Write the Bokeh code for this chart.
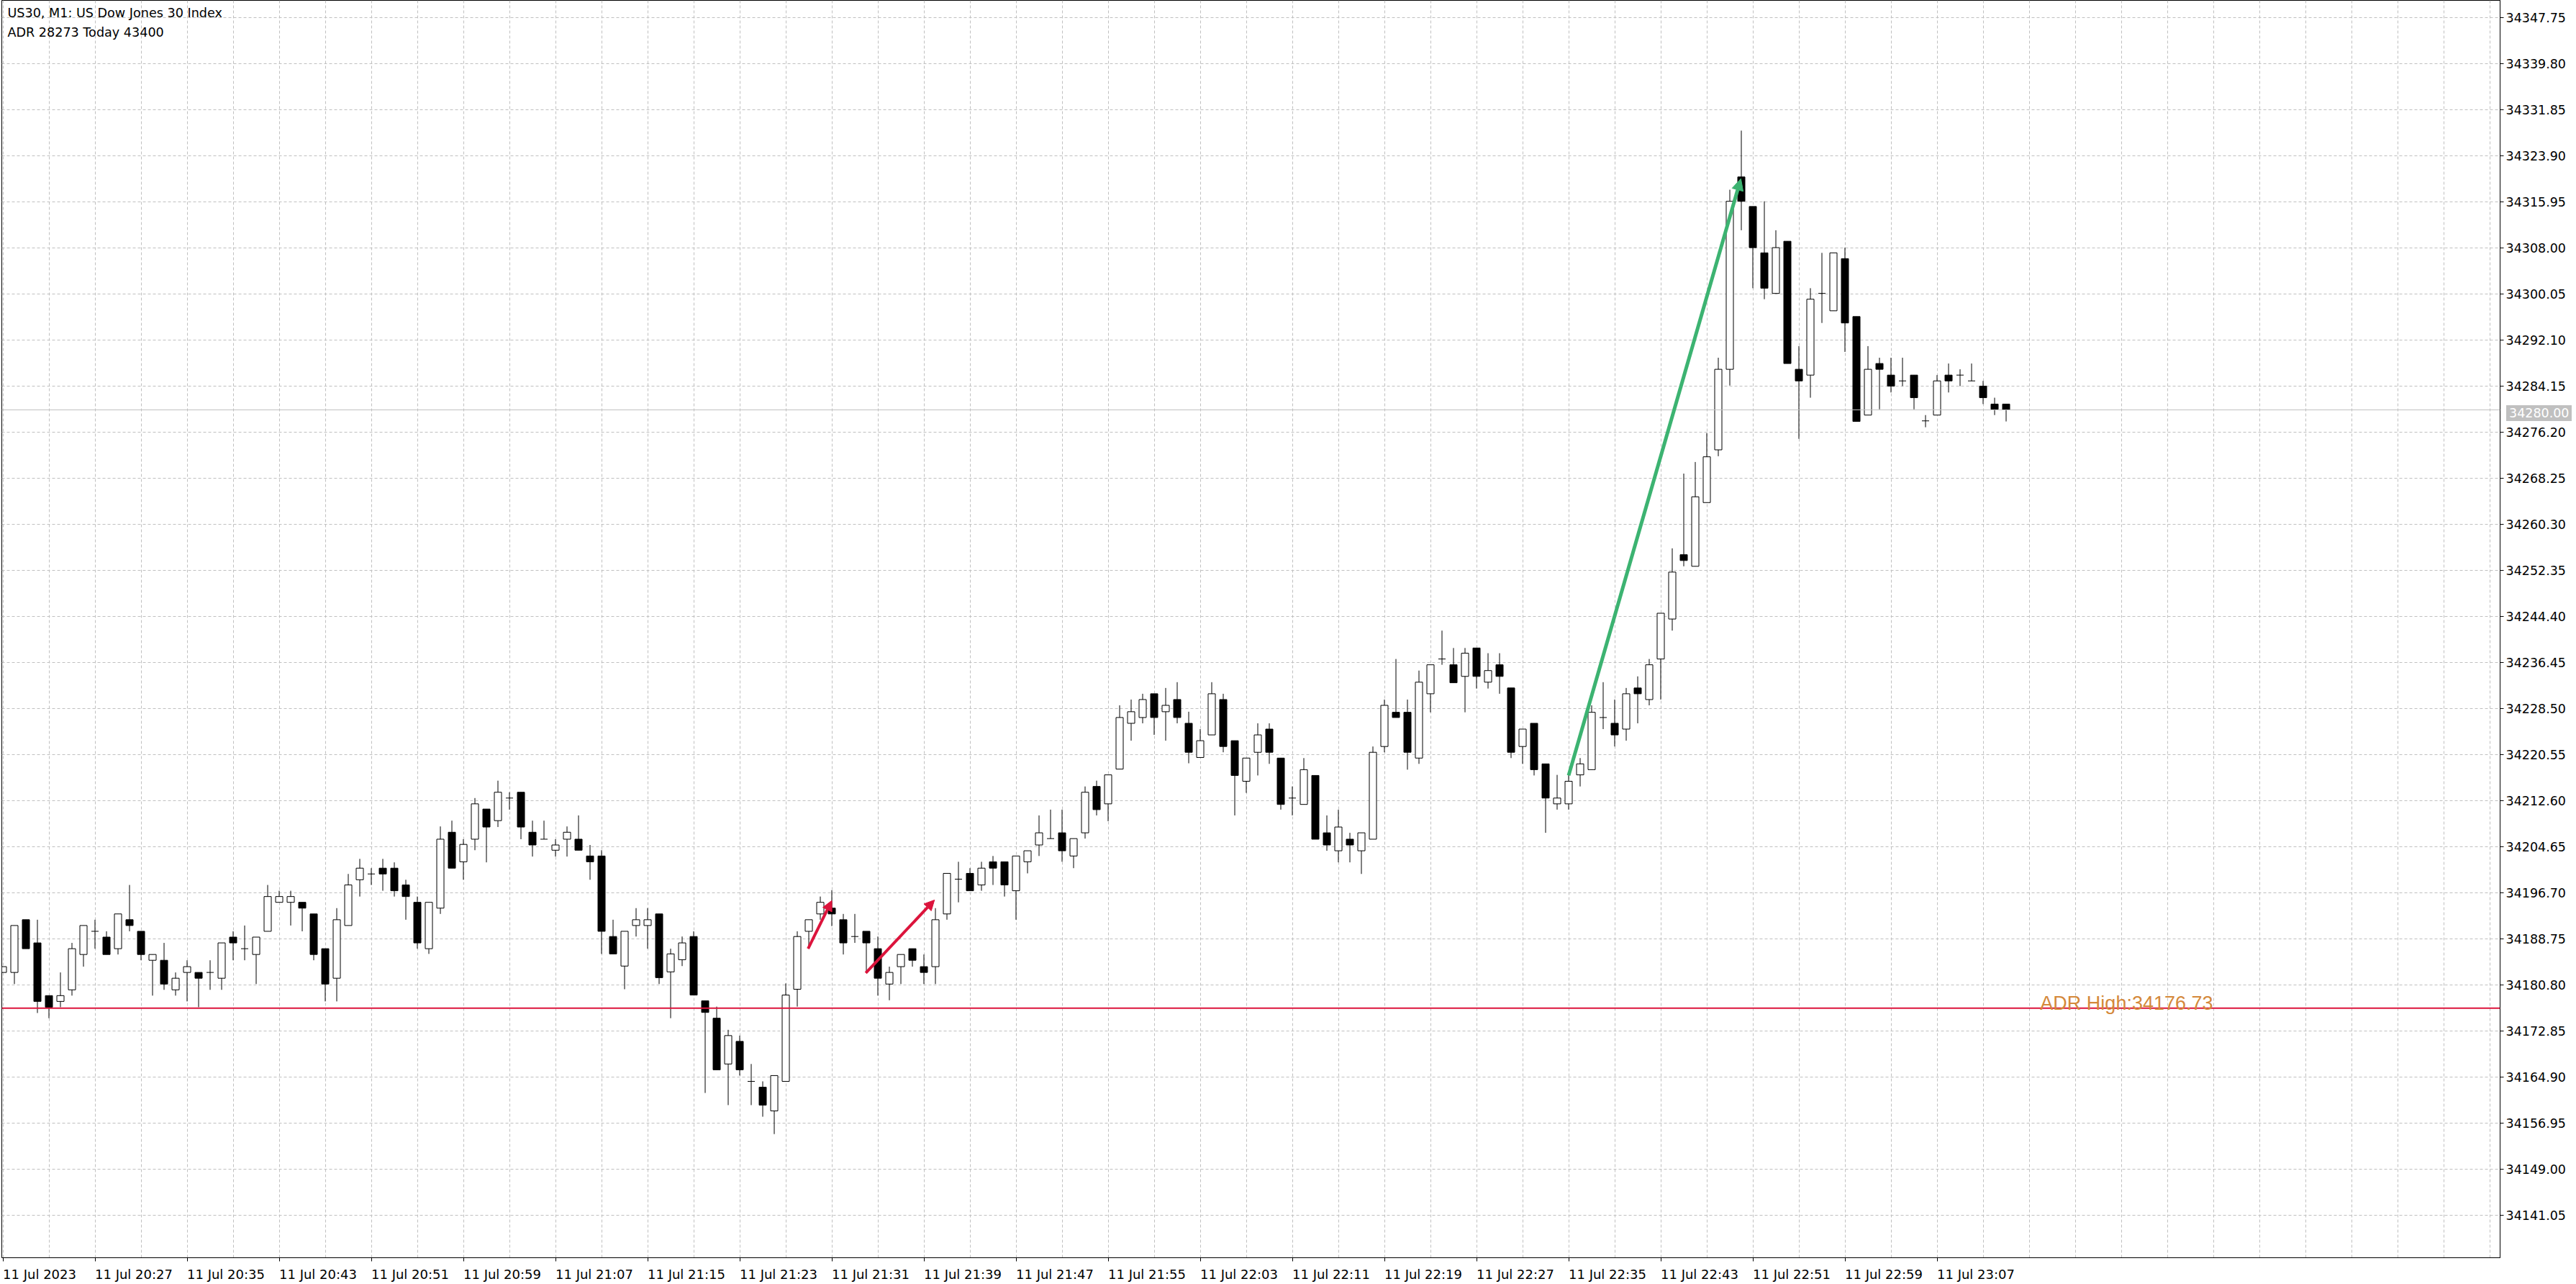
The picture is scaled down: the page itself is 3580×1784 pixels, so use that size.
from bokeh.plotting import figure
from bokeh.models import FixedTicker, Span, Label, Arrow, NormalHead, Range1d, PrintfTickFormatter, ColumnDataSource, Div
from bokeh.layouts import column
from bokeh.embed import file_html
from bokeh.resources import INLINE

# ---------------- data (M1 candles, index 0 = 11 Jul 20:19) ----------------
opens = [
    34182.9, 34182.9, 34192.0, 34188.0, 34178.9, 34177.9, 34179.9, 34186.0, 34190.0, 34189.0,
    34187.0, 34192.0, 34190.0, 34185.0, 34185.0, 34179.9, 34182.9, 34182.9, 34182.9, 34181.9,
    34189.0, 34187.0, 34186.0, 34190.0, 34195.0, 34195.0, 34195.0, 34193.0, 34187.0, 34181.9,
    34191.0, 34198.9, 34199.9, 34200.9, 34200.9, 34198.0, 34195.0, 34187.0, 34194.0, 34207.1,
    34202.0, 34205.9, 34211.1, 34209.1, 34213.0, 34214.0, 34207.1, 34205.9, 34204.0, 34205.9,
    34205.9, 34203.0, 34203.0, 34189.1, 34184.0, 34191.0, 34191.0, 34193.0, 34183.0, 34185.1,
    34189.1, 34178.0, 34175.0, 34167.1, 34171.0, 34164.1, 34163.1, 34159.0, 34164.1, 34180.0,
    34190.0, 34193.0, 34194.0, 34192.0, 34189.1, 34190.0, 34187.0, 34180.9, 34183.9, 34187.0,
    34183.9, 34183.9, 34193.0, 34199.0, 34200.0, 34198.0, 34202.0, 34202.0, 34197.0, 34202.0,
    34204.9, 34206.0, 34207.0, 34203.0, 34207.0, 34215.0, 34212.0, 34218.0, 34225.9, 34226.9,
    34231.0, 34227.9, 34230.0, 34225.9, 34220.0, 34223.9, 34230.0, 34222.9, 34215.9, 34220.9,
    34224.9, 34219.9, 34213.0, 34211.9, 34216.9, 34207.0, 34203.9, 34205.9, 34203.9, 34205.9,
    34221.9, 34227.8, 34227.8, 34219.9, 34231.0, 34237.0, 34236.0, 34234.0, 34238.9, 34233.0,
    34236.0, 34232.0, 34221.9, 34225.9, 34218.9, 34212.0, 34212.0, 34217.0, 34217.9, 34226.9,
    34225.9, 34224.9, 34232.0, 34230.0, 34237.0, 34243.9, 34255.0, 34253.0, 34264.0, 34273.1,
    34287.0, 34320.2, 34315.1, 34307.1, 34300.1, 34309.1, 34287.0, 34286.0, 34300.1, 34297.1,
    34306.1, 34296.1, 34279.1, 34288.0, 34286.0, 34285.0, 34286.0, 34278.1, 34279.1, 34286.0,
    34286.0, 34285.0, 34284.1, 34281.0, 34281.0,
]
highs = [
    34183.9, 34191.0, 34192.0, 34192.0, 34178.9, 34182.9, 34188.0, 34191.0, 34192.0, 34190.0,
    34193.0, 34198.0, 34190.0, 34186.0, 34188.0, 34182.9, 34185.0, 34182.9, 34185.0, 34188.0,
    34190.0, 34191.0, 34189.0, 34198.0, 34197.0, 34197.0, 34195.0, 34193.0, 34187.0, 34194.0,
    34199.9, 34202.5, 34200.9, 34202.5, 34201.9, 34198.9, 34196.0, 34195.0, 34208.1, 34209.1,
    34205.9, 34213.0, 34211.1, 34216.0, 34214.0, 34214.0, 34209.1, 34209.1, 34205.9, 34208.1,
    34210.0, 34204.9, 34204.0, 34192.0, 34190.0, 34194.0, 34194.0, 34193.0, 34187.0, 34189.1,
    34190.0, 34178.0, 34177.0, 34173.0, 34172.0, 34167.1, 34164.1, 34165.1, 34181.0, 34190.0,
    34192.0, 34196.0, 34197.1, 34193.0, 34193.0, 34190.0, 34189.1, 34183.9, 34186.0, 34187.0,
    34186.0, 34194.0, 34200.0, 34202.0, 34200.9, 34202.0, 34203.0, 34202.0, 34203.0, 34203.9,
    34210.0, 34211.0, 34211.0, 34206.0, 34215.0, 34216.0, 34217.0, 34229.0, 34230.0, 34231.0,
    34231.0, 34232.0, 34233.0, 34227.9, 34224.9, 34233.0, 34231.0, 34222.9, 34219.9, 34225.9,
    34225.9, 34219.9, 34215.0, 34219.9, 34216.9, 34210.0, 34211.0, 34207.0, 34207.0, 34221.9,
    34230.0, 34237.0, 34230.0, 34235.0, 34236.0, 34241.9, 34238.9, 34238.9, 34238.9, 34238.0,
    34238.0, 34232.0, 34224.9, 34225.9, 34218.9, 34217.0, 34217.0, 34219.9, 34229.0, 34233.0,
    34230.0, 34232.0, 34234.0, 34237.0, 34244.9, 34256.1, 34269.0, 34271.0, 34276.0, 34289.0,
    34318.0, 34328.2, 34315.1, 34316.0, 34311.0, 34309.1, 34291.0, 34301.0, 34307.1, 34307.1,
    34308.0, 34296.1, 34291.0, 34289.0, 34289.0, 34289.0, 34286.0, 34279.1, 34286.0, 34288.0,
    34287.0, 34288.0, 34285.0, 34282.1, 34281.0,
]
lows = [
    34182.9, 34180.9, 34187.0, 34175.9, 34175.0, 34176.9, 34178.9, 34183.9, 34187.0, 34186.0,
    34186.0, 34190.0, 34185.0, 34178.9, 34179.9, 34178.9, 34177.9, 34176.9, 34179.9, 34179.9,
    34185.0, 34185.0, 34180.9, 34190.0, 34195.0, 34191.0, 34190.0, 34185.0, 34177.9, 34177.9,
    34191.0, 34196.0, 34198.0, 34197.0, 34196.0, 34192.0, 34187.0, 34186.1, 34193.0, 34200.9,
    34198.9, 34204.0, 34201.9, 34208.0, 34211.0, 34205.9, 34202.9, 34205.9, 34202.9, 34202.9,
    34204.0, 34198.9, 34186.1, 34186.1, 34180.0, 34189.1, 34187.0, 34180.9, 34175.0, 34184.0,
    34179.0, 34162.1, 34166.1, 34160.0, 34165.1, 34160.0, 34158.0, 34155.0, 34164.1, 34177.0,
    34187.0, 34192.0, 34190.9, 34186.0, 34188.0, 34182.8, 34178.9, 34178.1, 34180.9, 34183.9,
    34180.9, 34180.9, 34192.0, 34195.0, 34197.0, 34197.0, 34198.0, 34196.0, 34192.0, 34200.0,
    34203.0, 34206.0, 34202.0, 34200.9, 34206.0, 34210.0, 34209.0, 34218.0, 34222.9, 34225.9,
    34223.9, 34222.9, 34225.9, 34219.0, 34220.0, 34223.9, 34220.9, 34210.0, 34213.9, 34216.9,
    34218.9, 34211.0, 34210.0, 34211.9, 34205.9, 34203.9, 34201.9, 34201.9, 34199.9, 34205.9,
    34220.9, 34226.9, 34217.9, 34218.9, 34227.8, 34236.0, 34232.9, 34227.8, 34231.9, 34231.9,
    34231.0, 34219.9, 34218.9, 34216.9, 34207.0, 34211.0, 34211.0, 34215.0, 34217.9, 34224.9,
    34221.9, 34222.9, 34225.9, 34229.0, 34230.0, 34241.9, 34253.0, 34253.0, 34264.0, 34272.0,
    34284.2, 34311.0, 34301.0, 34299.1, 34300.1, 34288.0, 34275.0, 34282.1, 34295.0, 34297.1,
    34290.0, 34278.0, 34279.1, 34280.1, 34283.0, 34284.1, 34280.1, 34277.0, 34279.1, 34283.0,
    34284.1, 34285.0, 34281.0, 34279.1, 34278.0,
]
closes = [
    34183.9, 34191.0, 34187.0, 34177.9, 34176.9, 34178.9, 34187.0, 34191.0, 34190.0, 34186.0,
    34193.0, 34191.0, 34186.0, 34186.0, 34180.9, 34181.9, 34183.9, 34181.9, 34182.9, 34188.0,
    34188.0, 34187.0, 34189.0, 34196.0, 34196.0, 34196.0, 34194.0, 34186.0, 34180.9, 34192.0,
    34198.0, 34200.9, 34199.9, 34199.9, 34197.0, 34196.0, 34188.0, 34195.0, 34205.9, 34200.9,
    34205.0, 34212.0, 34208.0, 34214.0, 34213.0, 34208.0, 34204.9, 34205.9, 34204.9, 34207.1,
    34204.0, 34202.0, 34190.0, 34186.1, 34190.0, 34192.0, 34192.0, 34182.0, 34186.1, 34188.0,
    34179.0, 34176.0, 34166.1, 34172.0, 34166.1, 34164.1, 34160.0, 34165.1, 34179.0, 34189.1,
    34192.0, 34195.0, 34193.0, 34188.0, 34189.1, 34188.0, 34181.9, 34182.9, 34186.0, 34185.0,
    34182.9, 34192.0, 34200.0, 34199.0, 34197.0, 34200.9, 34200.9, 34198.0, 34203.0, 34203.9,
    34207.0, 34206.0, 34203.9, 34206.0, 34214.0, 34211.0, 34217.0, 34226.9, 34227.9, 34230.0,
    34226.9, 34229.0, 34226.9, 34220.9, 34222.9, 34231.0, 34221.9, 34216.9, 34219.9, 34223.9,
    34220.9, 34211.9, 34213.0, 34217.9, 34205.9, 34204.9, 34208.0, 34204.9, 34207.0, 34220.9,
    34229.0, 34226.9, 34220.9, 34233.0, 34236.0, 34237.0, 34232.9, 34238.0, 34234.0, 34235.0,
    34234.0, 34220.9, 34224.9, 34217.9, 34213.0, 34213.0, 34215.9, 34218.9, 34227.8, 34226.9,
    34223.9, 34231.0, 34231.0, 34236.0, 34244.9, 34252.0, 34254.0, 34265.0, 34271.9, 34287.0,
    34316.0, 34316.0, 34308.0, 34301.0, 34308.0, 34288.0, 34285.0, 34299.1, 34300.1, 34307.1,
    34295.0, 34278.0, 34287.0, 34287.0, 34284.1, 34285.0, 34282.1, 34278.1, 34285.0, 34285.0,
    34286.0, 34285.0, 34282.1, 34280.1, 34280.0,
]

time_tick_index = [0, 8, 16, 24, 32, 40, 48, 56, 64, 72, 80, 88, 96, 104, 112, 120, 128, 136, 144, 152, 160, 168]
time_labels = ["11 Jul 2023", "11 Jul 20:27", "11 Jul 20:35", "11 Jul 20:43", "11 Jul 20:51", "11 Jul 20:59",
               "11 Jul 21:07", "11 Jul 21:15", "11 Jul 21:23", "11 Jul 21:31", "11 Jul 21:39", "11 Jul 21:47",
               "11 Jul 21:55", "11 Jul 22:03", "11 Jul 22:11", "11 Jul 22:19", "11 Jul 22:27", "11 Jul 22:35",
               "11 Jul 22:43", "11 Jul 22:51", "11 Jul 22:59", "11 Jul 23:07"]
price_ticks = [34141.05, 34149.00, 34156.95, 34164.90, 34172.85, 34180.80, 34188.75, 34196.70, 34204.65,
               34212.60, 34220.55, 34228.50, 34236.45, 34244.40, 34252.35, 34260.30, 34268.25, 34276.20,
               34284.15, 34292.10, 34300.05, 34308.00, 34315.95, 34323.90, 34331.85, 34339.80, 34347.75]

adr_high = 34176.73
last_price = 34280.00
title_lines = ["US30, M1:  US Dow Jones 30 Index", "ADR 28273  Today 43400"]

# trend arrows: (x_start, y_start, x_end, y_end) in candle index / price
red_arrows = [(69.94, 34187.0, 72.0, 34195.3), (74.95, 34182.8, 80.92, 34195.4)]
green_arrow = (136.0, 34216.9, 150.96, 34319.9)

# ---------------- figure ----------------
RED = "#DC143C"
GREEN = "#3CB371"
GRID = "#C0C0C0"
FONT = "DejaVu Sans"
Y_TOP, Y_BOTTOM = 34350.68, 34133.66
FRAME_H = 1747

p = figure(frame_width=3472, frame_height=FRAME_H,
           x_range=Range1d(-0.09375, 216.90625), y_range=Range1d(Y_BOTTOM, Y_TOP),
           y_axis_location="right", toolbar_location=None, output_backend="svg",
           min_border_left=2, min_border_top=0, min_border_right=106, min_border_bottom=37,
           background_fill_color="white", border_fill_color="white",
           outline_line_color="black", outline_line_width=1)

# grids
p.xgrid.ticker = FixedTicker(ticks=list(range(0, 220, 4)))
p.ygrid.ticker = FixedTicker(ticks=price_ticks)
for g in (p.xgrid, p.ygrid):
    g.grid_line_color = GRID
    g.grid_line_dash = "4 3"
    g.grid_line_width = 1

# x axis: labels start at the tick (MT5 style)
label_pos = [t + (3.1875 if k == 0 else 3.375) for k, t in enumerate(time_tick_index)]
p.xaxis.ticker = FixedTicker(ticks=label_pos, minor_ticks=time_tick_index)
p.xaxis.major_label_overrides = {pos: lab for pos, lab in zip(label_pos, time_labels)}
p.xaxis.major_tick_out = 0
p.xaxis.major_tick_in = 0
p.xaxis.minor_tick_out = 5
p.xaxis.minor_tick_in = 0
p.xaxis.major_label_standoff = 7
p.xaxis.major_label_text_font = FONT
p.xaxis.major_label_text_font_size = "18px"
p.xaxis.major_label_text_color = "black"
p.xaxis.axis_line_color = "black"

# y axis (right)
p.yaxis.ticker = FixedTicker(ticks=price_ticks)
p.yaxis.formatter = PrintfTickFormatter(format="%.2f")
p.yaxis.major_tick_out = 5
p.yaxis.major_tick_in = 0
p.yaxis.minor_tick_out = 0
p.yaxis.minor_tick_in = 0
p.yaxis.major_label_standoff = 3
p.yaxis.major_label_text_font = FONT
p.yaxis.major_label_text_font_size = "17.5px"
p.yaxis.major_label_text_color = "black"
p.yaxis.axis_line_color = "black"

# ADR high line and last price line
p.add_layout(Span(location=last_price, dimension="width", line_color=GRID, line_width=1))
p.add_layout(Span(location=adr_high, dimension="width", line_color=RED, line_width=2))

# candles
idx = list(range(len(opens)))
is_doji = [abs(c - o) < 0.05 for o, c in zip(opens, closes)]
wick_src = ColumnDataSource(dict(x=idx, hi=highs, lo=lows))
p.segment(x0="x", y0="hi", x1="x", y1="lo", source=wick_src, line_color="black", line_width=1)

body = dict(x=[], top=[], bottom=[], fill=[])
doji = dict(x0=[], x1=[], y=[])
half = 0.3125
for i, (o, c, d) in enumerate(zip(opens, closes, is_doji)):
    if d:
        doji["x0"].append(i - half)
        doji["x1"].append(i + half)
        doji["y"].append(c)
    else:
        body["x"].append(i)
        body["top"].append(max(o, c))
        body["bottom"].append(min(o, c))
        body["fill"].append("white" if c > o else "black")
p.vbar(x="x", top="top", bottom="bottom", width=2 * half, fill_color="fill",
       line_color="black", line_width=1, source=ColumnDataSource(body))
p.segment(x0="x0", y0="y", x1="x1", y1="y", source=ColumnDataSource(doji),
          line_color="black", line_width=1)

# arrows
for (xs, ys, xe, ye) in red_arrows:
    p.add_layout(Arrow(end=NormalHead(size=14, fill_color=RED, line_color=RED),
                       x_start=xs, y_start=ys, x_end=xe, y_end=ye,
                       line_color=RED, line_width=4))
xs, ys, xe, ye = green_arrow
p.add_layout(Arrow(end=NormalHead(size=16, fill_color=GREEN, line_color=GREEN),
                   x_start=xs, y_start=ys, x_end=xe, y_end=ye,
                   line_color=GREEN, line_width=5))

# texts
p.add_layout(Label(x=0.4, y=34349.8, text=title_lines[0], text_font=FONT, text_font_size="17.6px",
                   text_color="black", text_baseline="top", text_align="left"))
p.add_layout(Label(x=0.4, y=34346.45, text=title_lines[1], text_font=FONT, text_font_size="17.6px",
                   text_color="black", text_baseline="top", text_align="left"))
p.add_layout(Label(x=176.96, y=34177.6, text="ADR High:%.2f" % adr_high, text_font="Liberation Sans",
                   text_font_size="27px", text_color="#D4883A", text_baseline="alphabetic",
                   text_align="left"))

# last price tag on the price scale (outside the frame, so placed as an overlay element)
tag_centre_px = (Y_TOP - last_price) / (Y_TOP - Y_BOTTOM) * FRAME_H
tag = Div(text="%.2f" % last_price,
          styles={"position": "absolute", "left": "3478px", "top": "%dpx" % round(tag_centre_px - 11),
                  "height": "22px", "line-height": "22px", "padding": "0px 3px 0px 4px",
                  "background-color": GRID, "color": "white", "font-family": FONT,
                  "font-size": "17.5px", "white-space": "nowrap", "z-index": "10"})
page = column(p, tag, spacing=0)

open("out.html", "w").write(file_html(page, INLINE))
